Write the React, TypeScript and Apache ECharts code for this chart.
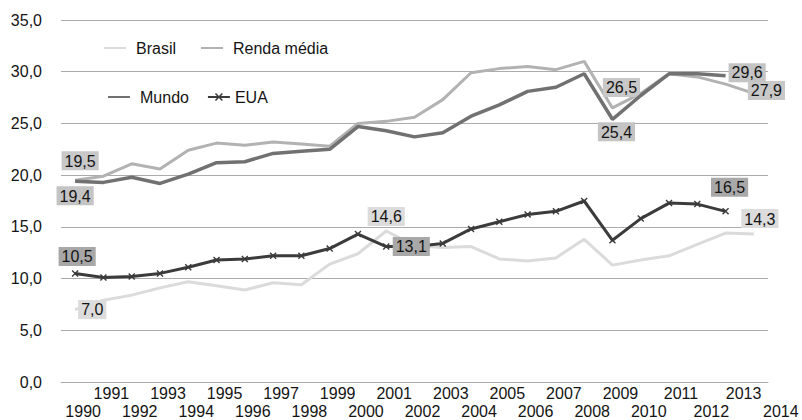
import React, { useEffect, useRef } from 'react';
import * as echarts from 'echarts';

const years = [
  '1990', '1991', '1992', '1993', '1994', '1995', '1996', '1997', '1998', '1999',
  '2000', '2001', '2002', '2003', '2004', '2005', '2006', '2007', '2008', '2009',
  '2010', '2011', '2012', '2013', '2014',
];

const brasil = [7.0, 7.9, 8.4, 9.1, 9.7, 9.3, 8.9, 9.6, 9.4, 11.4, 12.4, 14.6, 13.2, 13.0, 13.1, 11.9, 11.7, 12.0, 13.8, 11.3, 11.8, 12.2, 13.3, 14.4, 14.3];
const rendaMedia = [19.5, 19.9, 21.1, 20.6, 22.4, 23.1, 22.9, 23.2, 23.0, 22.8, 25.0, 25.2, 25.6, 27.3, 29.9, 30.3, 30.5, 30.2, 31.0, 26.5, 27.9, 29.8, 29.5, 28.8, 27.9];
const mundo = [19.4, 19.3, 19.8, 19.2, 20.1, 21.2, 21.3, 22.1, 22.3, 22.5, 24.7, 24.3, 23.7, 24.1, 25.7, 26.8, 28.1, 28.5, 29.8, 25.4, 27.7, 29.8, 29.8, 29.6, null];
const eua = [10.5, 10.1, 10.2, 10.5, 11.1, 11.8, 11.9, 12.2, 12.2, 12.9, 14.3, 13.1, 13.1, 13.4, 14.8, 15.5, 16.2, 16.5, 17.5, 13.7, 15.8, 17.3, 17.2, 16.5, null];

const yTicks = { min: 0, max: 35, interval: 5 };

const FONT = "'Liberation Sans', Arial, sans-serif";
const TEXT = '#141414';

// label placement per labelled point (style only)
const labelSpecs: Record<string, any> = {
  'Renda média|1990': { position: 'top', distance: 10, offset: [5, 0], bg: '#c8c8c8' },
  'Mundo|1990': { position: 'bottom', distance: 5, offset: [0, 0], bg: '#c4c4c4' },
  'EUA|1990': { position: 'top', distance: 4, offset: [2, 0], bg: '#a8a8a8' },
  'Brasil|1990': { position: 'right', distance: 3, offset: [0, 0], bg: '#dcdcdc' },
  'Brasil|2001': { position: 'top', distance: 5, offset: [0, 0], bg: '#dcdcdc' },
  'EUA|2001': { position: 'right', distance: 3, offset: [0, 0], bg: '#a8a8a8' },
  'Renda média|2009': { position: 'top', distance: 11, offset: [9, 0], bg: '#c8c8c8' },
  'Mundo|2009': { position: 'bottom', distance: 3, offset: [4, 0], bg: '#c4c4c4' },
  'Mundo|2013': { position: 'right', distance: 3, offset: [0, -3], bg: '#c4c4c4' },
  'Renda média|2014': { position: 'right', distance: -6, offset: [0, -3], bg: '#c8c8c8' },
  'EUA|2013': { position: 'top', distance: 11, offset: [4, 0], bg: '#a8a8a8' },
  'Brasil|2014': { position: 'top', distance: 6, offset: [6, 0], bg: '#dcdcdc' },
};

const fmt = (v: number) => v.toFixed(1).replace('.', ',');

function buildData(name: string, values: (number | null)[]) {
  return values.map((v, i) => {
    const spec = labelSpecs[name + '|' + years[i]];
    if (!spec || v == null) return v;
    return {
      value: v,
      label: {
        show: true,
        position: spec.position,
        distance: spec.distance,
        offset: spec.offset,
        formatter: (p: any) => fmt(p.value),
        fontSize: 16,
        fontFamily: FONT,
        color: TEXT,
        backgroundColor: spec.bg,
        padding: [1, 3, 0, 3],
        lineHeight: 18,
      },
    };
  });
}

const xShape =
  'path://M0,1.4L1.4,0L5,3.6L8.6,0L10,1.4L6.4,5L10,8.6L8.6,10L5,6.4L1.4,10L0,8.6L3.6,5Z';

function labelShift(i: number) {
  if (i <= 20) return 8;
  return [12, 14, 18, 27][i - 21] ?? 8;
}

const rich: Record<string, any> = {};
[8, 12, 14, 18, 27].forEach((n) => {
  rich['s' + n] = { padding: [0, 0, 0, 2 * n], fontSize: 16, fontFamily: FONT, color: TEXT, lineHeight: 18 };
});

function xAxisCfg(showOdd: boolean, margin: number, withLine: boolean) {
  return {
    type: 'category',
    data: years,
    boundaryGap: true,
    position: 'bottom',
    axisLine: { show: withLine, lineStyle: { color: '#ababab', width: 1 } },
    axisTick: { show: false },
    splitLine: { show: false },
    axisLabel: {
      interval: 0,
      margin,
      hideOverlap: false,
      fontSize: 16,
      fontFamily: FONT,
      color: TEXT,
      formatter: (val: string, i: number) =>
        (showOdd ? i % 2 === 1 : i % 2 === 0) ? `{s${labelShift(i)}|${val}}` : '',
      rich,
    },
  };
}

const lineSeries = (name: string, values: (number | null)[], color: string, width: number, z: number) => ({
  name,
  type: 'line',
  data: buildData(name, values),
  xAxisIndex: 0,
  symbol: 'circle',
  symbolSize: 0,
  showSymbol: true,
  showAllSymbol: true,
  itemStyle: { color },
  lineStyle: { color, width },
  z,
});

export default function App() {
  const ref = useRef<HTMLDivElement>(null);
  useEffect(() => {
    const chart = echarts.init(ref.current!, null, { renderer: 'svg' });
    const legendText = { fontSize: 16, fontFamily: FONT, color: TEXT, padding: [0, 0, 0, 5] };
    chart.setOption({
      animation: false,
      backgroundColor: '#ffffff',
      textStyle: { fontFamily: FONT },
      grid: { left: 61, right: 34, top: 20, bottom: 38, containLabel: false },
      legend: [
        {
          left: 103,
          top: 40,
          padding: 0,
          itemGap: 24,
          itemWidth: 22,
          itemHeight: 10,
          textStyle: legendText,
          data: [
            { name: 'Brasil', itemStyle: { opacity: 0 } },
            { name: 'Renda média', itemStyle: { opacity: 0 } },
          ],
        },
        {
          left: 107,
          top: 89,
          padding: 0,
          itemGap: 18,
          itemWidth: 22,
          itemHeight: 10,
          textStyle: legendText,
          data: [
            { name: 'Mundo', itemStyle: { opacity: 0 } },
            { name: 'EUA', textStyle: { padding: 0 } },
          ],
        },
      ],
      xAxis: [xAxisCfg(true, 2, true), xAxisCfg(false, 20, false)],
      yAxis: {
        type: 'value',
        min: yTicks.min,
        max: yTicks.max,
        interval: yTicks.interval,
        axisLine: { show: false },
        axisTick: { show: false },
        axisLabel: { formatter: (v: number) => fmt(v), fontSize: 16, fontFamily: FONT, color: TEXT, margin: 19 },
        splitLine: { lineStyle: { color: '#ababab', width: 1 } },
      },
      series: [
        lineSeries('Brasil', brasil, '#dbdbdb', 3, 2),
        lineSeries('Renda média', rendaMedia, '#b2b2b2', 3, 3),
        lineSeries('Mundo', mundo, '#717171', 3.5, 4),
        {
          ...lineSeries('EUA', eua, '#3b3b3b', 3, 5),
          symbol: xShape,
          symbolSize: 7,
        },
      ],
    });
    return () => chart.dispose();
  }, []);
  return (
    <div
      ref={ref}
      style={{ position: 'fixed', left: 0, top: 0, width: 802, height: 420, background: '#fff' }}
    />
  );
}
